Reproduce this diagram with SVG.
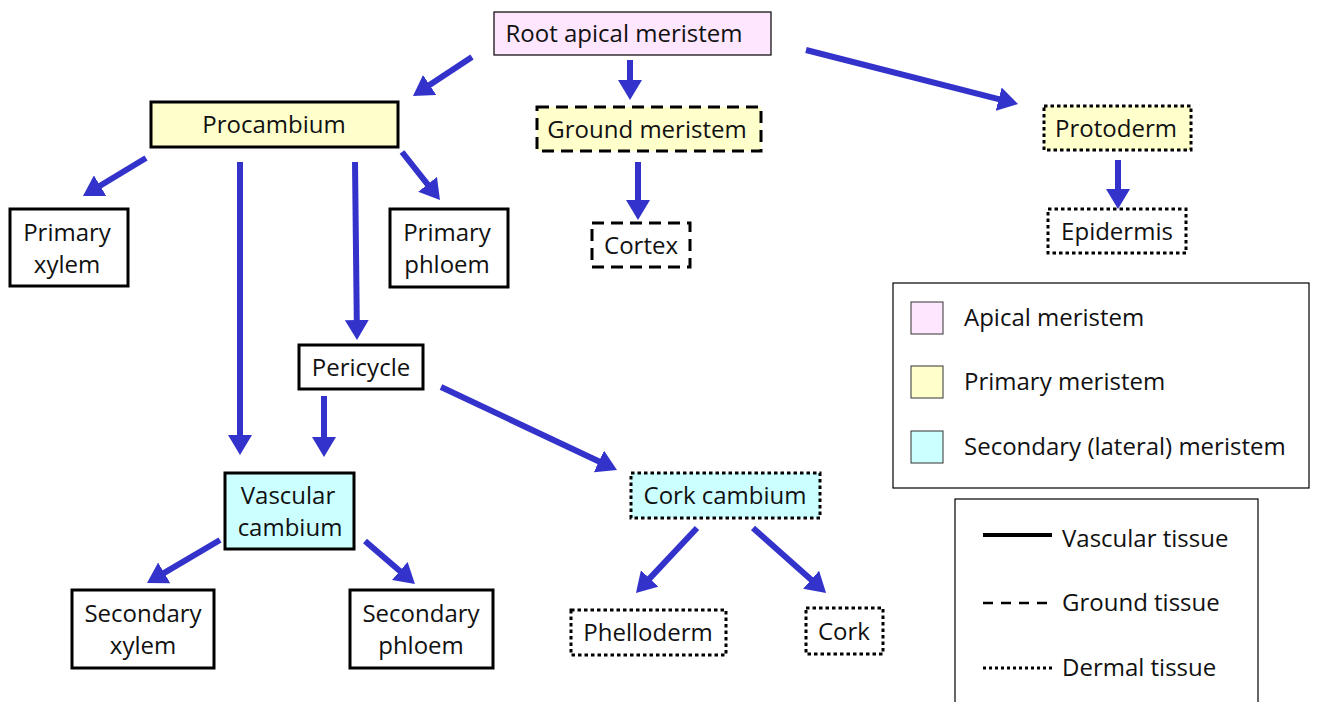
<svg xmlns="http://www.w3.org/2000/svg" width="1319" height="702" viewBox="0 0 1319 702">
<style>
text{font-family:"Open Sans",Lato,"Liberation Sans",sans-serif;font-size:24px;fill:#111;}
.c{text-anchor:middle;}
.box{stroke:#000;stroke-width:3;}
.dash{stroke-dasharray:12 7;}
.dot{stroke-dasharray:3.5 3;}
.apical{fill:#FFE6FF;}
.prim{fill:#FFFFCC;}
.sec{fill:#CCFFFF;}
.white{fill:#fff;}
.conn line{stroke:#3333CC;stroke-width:6;marker-end:url(#ah);}
</style>
<defs>
<marker id="ah" markerUnits="userSpaceOnUse" markerWidth="22" markerHeight="24" refX="2" refY="12" orient="auto">
<path d="M0,0 L20,12 L0,24 z" fill="#3333CC"/>
</marker>
</defs>
<rect width="1319" height="702" fill="#fff"/>
<g class="conn" id="connectors">
<line x1="472" y1="57" x2="428" y2="86"/>
<line x1="630" y1="60" x2="630" y2="82"/>
<line x1="806" y1="50" x2="1000.6" y2="99.6"/>
<line x1="146" y1="158" x2="98.4" y2="186.7"/>
<line x1="240" y1="162" x2="240" y2="437"/>
<line x1="355" y1="162" x2="356.8" y2="322"/>
<line x1="402" y1="152" x2="428.8" y2="185.9"/>
<line x1="638" y1="162" x2="638" y2="202"/>
<line x1="1118" y1="160" x2="1118" y2="191"/>
<line x1="324" y1="396" x2="324" y2="439"/>
<line x1="441" y1="387" x2="600.7" y2="462.3"/>
<line x1="220" y1="540" x2="162.5" y2="573.9"/>
<line x1="365" y1="541" x2="401.3" y2="572.3"/>
<line x1="697" y1="528" x2="648.3" y2="579.9"/>
<line x1="753" y1="528" x2="812.6" y2="581"/>
</g>
<g id="root-apical-meristem"><rect x="494" y="12" width="277" height="43" class="apical" stroke="#000" stroke-width="1.2"/><text x="624" y="42" class="c">Root apical meristem</text></g>
<g id="procambium"><rect x="151" y="102" width="247" height="45" class="box prim"/><text x="274" y="133" class="c">Procambium</text></g>
<g id="ground-meristem"><rect x="537" y="107" width="224" height="44" class="box prim dash"/><text x="647" y="138" class="c">Ground meristem</text></g>
<g id="protoderm"><rect x="1044" y="106" width="147" height="44" class="box prim dot"/><text x="1116" y="137" class="c">Protoderm</text></g>
<g id="primary-xylem"><rect x="10" y="209" width="118" height="77" class="box white"/><text x="67" y="241" class="c">Primary</text><text x="67" y="273" class="c">xylem</text></g>
<g id="primary-phloem"><rect x="390" y="209" width="118" height="78" class="box white"/><text x="447" y="241" class="c">Primary</text><text x="447" y="273" class="c">phloem</text></g>
<g id="cortex"><rect x="592" y="223" width="98" height="44" class="box white dash"/><text x="641" y="254" class="c">Cortex</text></g>
<g id="epidermis"><rect x="1048" y="209" width="138" height="44" class="box white dot"/><text x="1117" y="240" class="c">Epidermis</text></g>
<g id="pericycle"><rect x="299" y="345" width="124" height="44" class="box white"/><text x="361" y="376" class="c">Pericycle</text></g>
<g id="vascular-cambium"><rect x="225" y="473" width="129" height="76" class="box sec"/><text x="288" y="504" class="c">Vascular</text><text x="290" y="536" class="c">cambium</text></g>
<g id="cork-cambium"><rect x="631" y="473" width="189" height="45" class="box sec dot"/><text x="725" y="504" class="c">Cork cambium</text></g>
<g id="secondary-xylem"><rect x="72" y="590" width="142" height="78" class="box white"/><text x="143" y="622" class="c">Secondary</text><text x="143" y="654" class="c">xylem</text></g>
<g id="secondary-phloem"><rect x="350" y="590" width="143" height="78" class="box white"/><text x="421" y="622" class="c">Secondary</text><text x="421" y="654" class="c">phloem</text></g>
<g id="phelloderm"><rect x="571" y="610" width="155" height="45" class="box white dot"/><text x="648" y="641" class="c">Phelloderm</text></g>
<g id="cork"><rect x="806" y="608" width="77" height="46" class="box white dot"/><text x="844" y="640" class="c">Cork</text></g>
<g id="legend-colours">
<rect x="893" y="283" width="416" height="205" fill="#fff" stroke="#000" stroke-width="1.2"/>
<rect x="911" y="302" width="32" height="32" class="apical" stroke="#333" stroke-width="1"/>
<rect x="911" y="366" width="32" height="32" class="prim" stroke="#333" stroke-width="1"/>
<rect x="911" y="431" width="32" height="32" class="sec" stroke="#333" stroke-width="1"/>
<text x="964" y="326">Apical meristem</text>
<text x="964" y="390">Primary meristem</text>
<text x="964" y="455">Secondary (lateral) meristem</text>
</g>
<g id="legend-lines">
<rect x="955" y="499" width="303" height="210" fill="#fff" stroke="#000" stroke-width="1.2"/>
<line x1="983" y1="535" x2="1052" y2="535" stroke="#000" stroke-width="4"/>
<line x1="983" y1="603" x2="1052" y2="603" stroke="#000" stroke-width="2.5" stroke-dasharray="10 8"/>
<line x1="983" y1="668" x2="1052" y2="668" stroke="#000" stroke-width="3" stroke-dasharray="3 3"/>
<text x="1062" y="547">Vascular tissue</text>
<text x="1062" y="611">Ground tissue</text>
<text x="1062" y="676">Dermal tissue</text>
</g>
</svg>
